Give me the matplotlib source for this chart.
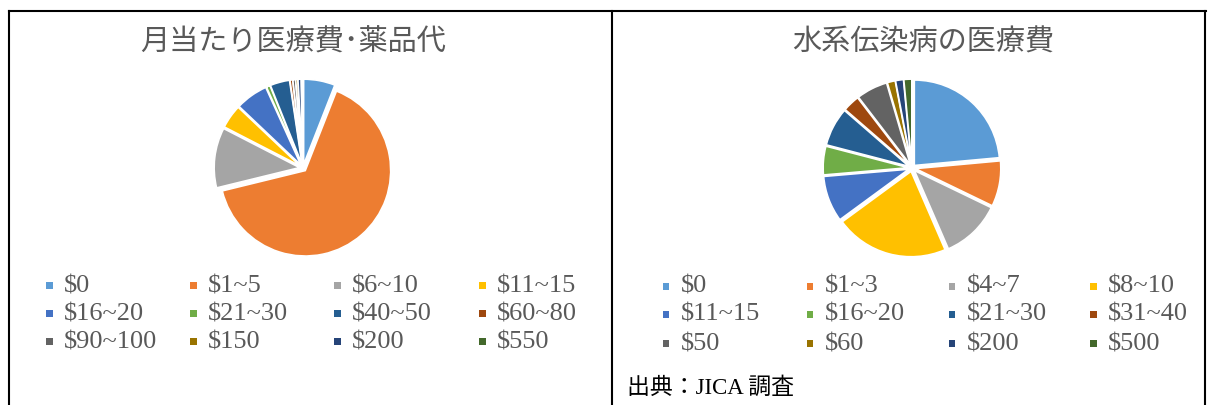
import matplotlib
matplotlib.use("Agg")
import matplotlib.pyplot as plt
from matplotlib.lines import Line2D
from matplotlib.patches import Rectangle

# データ（図から読み取った概算の割合 %）
titulo_izq = "月当たり医療費･薬品代"
etiquetas_izq = ["$0", "$1~5", "$6~10", "$11~15", "$16~20", "$21~30",
                 "$40~50", "$60~80", "$90~100", "$150", "$200", "$550"]
valores_izq = [5.8, 63.6, 11.1, 4.4, 6.0, 0.7, 3.6, 0.5, 0.5, 0.4, 0.6, 0.3]

titulo_der = "水系伝染病の医療費"
etiquetas_der = ["$0", "$1~3", "$4~7", "$8~10", "$11~15", "$16~20",
                 "$21~30", "$31~40", "$50", "$60", "$200", "$500"]
valores_der = [23.5, 8.6, 11.3, 21.4, 8.7, 5.4, 7.3, 3.2, 5.9, 1.5, 1.5, 1.5]

fuente = "出典：JICA 調査"

colores = ["#5B9BD5", "#ED7D31", "#A5A5A5", "#FFC000", "#4472C4", "#70AD47",
           "#255E91", "#9E480E", "#636363", "#997300", "#264478", "#43682B"]

W, H = 1208, 405
fig = plt.figure(figsize=(W / 100, H / 100), dpi=100)

cjk = ["Noto Sans CJK JP", "DejaVu Sans"]
serif = ["Liberation Serif", "Noto Sans CJK JP"]


def dibujar_pie(cx, cy, valores, titulo, tx, etiquetas, cols_x, filas_y):
    lado = 188
    ax = fig.add_axes([(cx - lado / 2) / W, (H - cy - lado / 2) / H, lado / W, lado / H])
    ax.pie(valores, colors=colores, startangle=90, counterclock=False,
           explode=[0.04] * len(valores), radius=1.0,
           wedgeprops=dict(edgecolor="white", linewidth=1.2))
    ax.set_xlim(-1.1, 1.1)
    ax.set_ylim(-1.1, 1.1)
    ax.set_aspect("equal")
    ax.axis("off")

    fig.text(tx / W, 1 - 43 / H, titulo, family=cjk, fontsize=21,
             color="#595959", ha="center", va="center")

    # leyenda manual en 4 columnas iguales
    for i, (lab, col) in enumerate(zip(etiquetas, colores)):
        x = cols_x[i % 4]
        y = filas_y[i // 4]
        fig.add_artist(Rectangle(((x - 3.5) / W, 1 - (y + 3.5) / H), 7 / W, 7 / H,
                                 transform=fig.transFigure, color=col, lw=0))
        fig.text((x + 15) / W, 1 - (y + 1) / H, lab, family=serif, fontsize=19,
                 color="#595959", ha="left", va="center")


dibujar_pie(303, 168, valores_izq, titulo_izq, 293, etiquetas_izq,
            [49, 193, 337, 482], [285, 313, 341])
dibujar_pie(912, 168, valores_der, titulo_der, 923, etiquetas_der,
            [666, 810, 952, 1093], [286, 314, 343])

fig.text(627 / W, 1 - 388 / H, fuente, family=serif, fontsize=16.5,
         color="black", ha="left", va="center")

# marcos
for (x0, y0, x1, y1) in [(9, 11, 1206, 11), (9, 11, 9, 405),
                         (612, 11, 612, 405), (1205, 11, 1205, 405)]:
    fig.add_artist(Line2D([x0 / W, x1 / W], [1 - y0 / H, 1 - y1 / H],
                          transform=fig.transFigure, color="black", lw=1.5))

fig.savefig("out.png", dpi=100)
